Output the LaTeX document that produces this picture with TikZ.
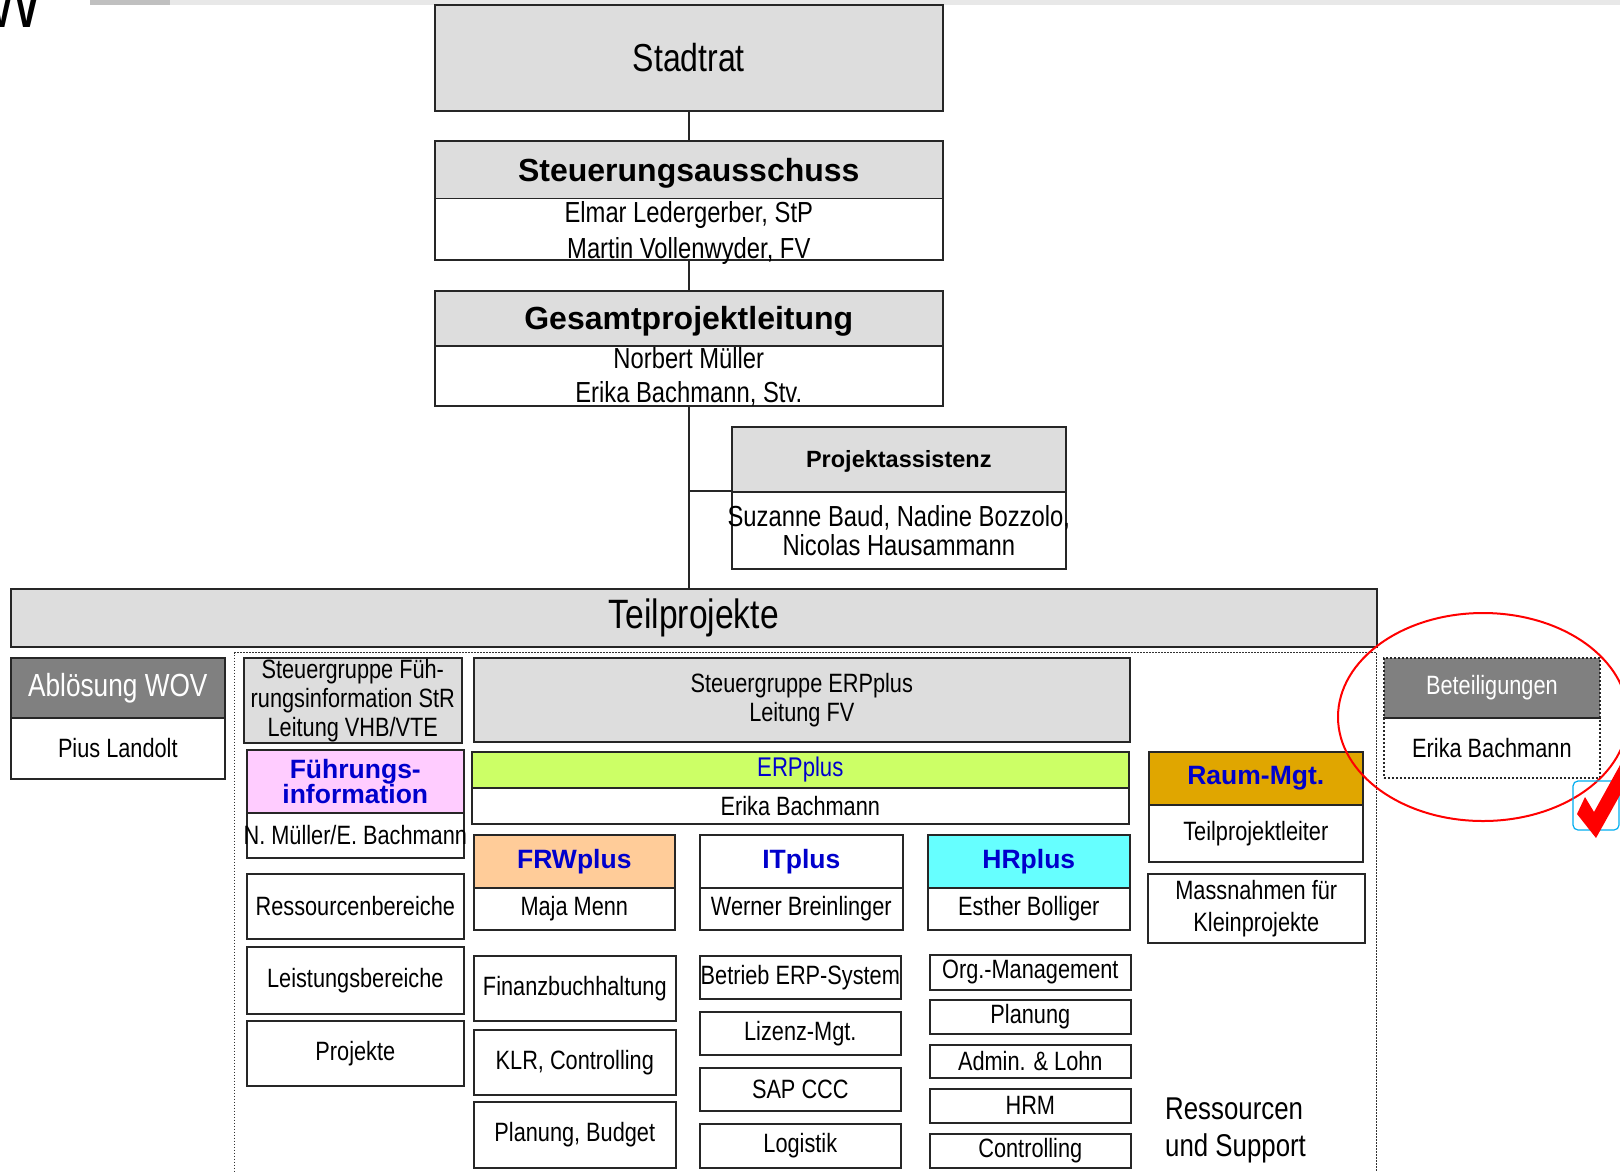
\documentclass[tikz,border=0pt]{standalone}
\usepackage{fontspec}
\setmainfont{Liberation Sans}
\newfontfamily\narrowfont[FakeStretch=0.82]{Liberation Sans}
\begin{document}
\begin{tikzpicture}[x=1pt,y=-1pt,
    wh/.style 2 args={minimum width=#1pt,minimum height=#2pt},
    box/.style={draw=black!85,line width=1.6pt,inner sep=0pt,anchor=north west,align=center,
      font=\narrowfont\fontsize{26.5}{29}\selectfont},
    greybox/.style={box,fill=boxgrey},
    darkbox/.style={box,fill=darkgrey,text=white},
    dotbox/.style={line width=1.8pt,dash pattern=on 2pt off 2pt},
    boldhead/.style={font=\bfseries\fontsize{32}{32}\selectfont,text depth=0pt},
    plusbox/.style={box,text=plusblue,font=\bfseries\fontsize{26.5}{25}\selectfont},
    lbl/.style={inner sep=0pt,align=center,font=\narrowfont\fontsize{29}{36}\selectfont},
    link/.style={draw=black!85,line width=1.5pt}]
  \definecolor{boxgrey}{RGB}{221,221,221}
  \definecolor{darkgrey}{RGB}{128,128,128}
  \definecolor{plusblue}{RGB}{0,0,204}
  \definecolor{pinkfill}{RGB}{255,204,255}
  \definecolor{erpgreen}{RGB}{204,255,102}
  \definecolor{frwfill}{RGB}{255,204,153}
  \definecolor{hrfill}{RGB}{102,255,255}
  \definecolor{raumgold}{RGB}{224,166,0}
  \definecolor{topdark}{RGB}{192,192,192}
  \definecolor{toplight}{RGB}{232,232,232}
  \useasboundingbox (0,0) rectangle (1620,1171);

  % remnants at the top edge
  \fill[topdark] (90,0) rectangle (170,5);
  \fill[toplight] (170,0) rectangle (1620,5);
  \begin{scope}
    \clip (0,0) rectangle (1620,1171);
    \node[inner sep=0pt,anchor=base east,font=\narrowfont\fontsize{74}{74}\selectfont] (wfrag) at (43,27) {W};
  \end{scope}

  % Leitung
  \node[greybox,wh={508}{106},font=\narrowfont\fontsize{39}{39}\selectfont] (stadtrat) at (434,4) {Stadtrat};
  \node[greybox,boldhead,wh={508}{57.5}] (sa-h) at (434,140) {Steuerungsausschuss};
  \node[box,wh={508}{61.5}] (sa-b) at (434,197.5) {};
  \node[lbl,yshift=-4pt] (sa-t) at (sa-b.center) {Elmar Ledergerber, StP\\Martin Vollenwyder, FV};
  \node[greybox,boldhead,wh={508}{55}] (gp-h) at (434,290) {Gesamtprojektleitung};
  \node[box,wh={508}{60}] (gp-b) at (434,345) {};
  \node[lbl,font=\narrowfont\fontsize{29}{34}\selectfont,yshift=-1.5pt] (gp-t) at (gp-b.center) {Norbert Müller\\Erika Bachmann, Stv.};
  \node[greybox,boldhead,font=\bfseries\fontsize{23.5}{23}\selectfont,wh={334}{65}] (pa-h) at (731,426) {Projektassistenz};
  \node[box,wh={334}{77}] (pa-b) at (731,491) {};
  \node[lbl,font=\narrowfont\fontsize{29}{29}\selectfont] (pa-t) at (pa-b.center) {Suzanne Baud, Nadine Bozzolo,\\Nicolas Hausammann};

  % Teilprojekte
  \node[greybox,wh={1366}{58},font=\narrowfont\fontsize{41}{41}\selectfont] (teil) at (10,588) {Teilprojekte};
  \node[box,draw=black!80,line width=1.2pt,dash pattern=on 1.5pt off 1.5pt,wh={1142}{600}] (frame) at (234,652) {};

  \draw[link] (stadtrat.south) -- (sa-h.north);
  \draw[link] (sa-b.south) -- (gp-h.north);
  \draw[link] (gp-b.south) -- (gp-b.south |- teil.north);
  \draw[link] (gp-b.south |- pa-b.north west) -- (pa-b.north west);

  \node[darkbox,wh={214}{60},font=\narrowfont\fontsize{32}{32}\selectfont] (abl-h) at (10,657) {Ablösung WOV};
  \node[box,wh={214}{61}] (abl-b) at (10,717) {Pius Landolt};

  % Fuehrungsinformation
  \node[greybox,wh={218}{85}] (sgf) at (243,657) {Steuergruppe Füh-\\rungsinformation StR\\Leitung VHB/VTE};
  \node[plusbox,fill=pinkfill,wh={217}{63}] (fi-h) at (246,749) {Führungs-\\information};
  \node[box,wh={217}{45}] (fi-b) at (246,812) {};
  \node[lbl,font=\narrowfont\fontsize{26.5}{29}\selectfont] (fi-t) at (fi-b.center) {N. Müller/E. Bachmann};
  \node[box,wh={217}{65}] (rb) at (246,873) {Ressourcenbereiche};
  \node[box,wh={217}{67}] (lb) at (246,946) {Leistungsbereiche};
  \node[box,wh={217}{65}] (pj) at (246,1020) {Projekte};

  % ERPplus
  \node[greybox,wh={656}{84}] (sge) at (473,657) {Steuergruppe ERPplus\\Leitung FV};
  \node[box,fill=erpgreen,text=plusblue,font=\narrowfont\fontsize{27}{27}\selectfont,wh={657}{36}] (erp-h) at (471,751) {ERPplus};
  \node[box,wh={657}{36}] (erp-b) at (471,787) {Erika Bachmann};

  \foreach \x/\w/\c/\name/\lead/\id in {473/201/frwfill/FRWplus/Maja Menn/frw,
      699/203/white/ITplus/Werner Breinlinger/it, 927/202/hrfill/HRplus/Esther Bolliger/hr} {
    \node[plusbox,fill=\c,wh={\w}{53}] (\id-h) at (\x,834) {\name};
    \node[box,wh={\w}{42}] (\id-b) at (\x,887) {\lead};
  }
  \foreach \y/\h/\t [count=\i] in {955/65/Finanzbuchhaltung, 1029/65/{KLR, Controlling}, 1101/66/{Planung, Budget}}
    \node[box,wh={202}{\h}] (frw-\i) at (473,\y) {\t};
  \foreach \y/\h/\t [count=\i] in {955/43/Betrieb ERP-System, 1011/43/Lizenz-Mgt., 1067/43/SAP CCC, 1123/44/Logistik}
    \node[box,wh={201}{\h}] (it-\i) at (699,\y) {\t};
  \foreach \y/\h/\t [count=\i] in {954/35/Org.-Management, 999/34/Planung, 1044/33/Admin. \& Lohn, 1088/34/HRM, 1133/34/Controlling}
    \node[box,wh={201}{\h}] (hr-\i) at (929,\y) {\t};

  % Raum-Mgt.
  \node[plusbox,fill=raumgold,wh={214}{53}] (rm-h) at (1148,751) {Raum-Mgt.};
  \node[box,wh={214}{57}] (rm-b) at (1148,804) {Teilprojektleiter};
  \node[box,font=\narrowfont\fontsize{26.5}{32}\selectfont,wh={217}{69}] (km) at (1147,873) {Massnahmen für\\Kleinprojekte};
  \node[inner sep=0pt,anchor=north west,align=left,font=\narrowfont\fontsize{31.5}{37}\selectfont] (rs) at (1165,1098) {Ressourcen\\und Support};

  % Beteiligungen
  \node[darkbox,dotbox,wh={216}{60}] (bet-h) at (1383,657) {Beteiligungen};
  \node[box,dotbox,wh={216}{60}] (bet-b) at (1383,717) {Erika Bachmann};
  \draw[red,line width=2pt] (1483,717) ellipse [x radius=145pt,y radius=104pt];
  \draw[cyan,line width=1.2pt,rounded corners=5pt] (1573,781) rectangle (1619,830);
  \fill[red] (1577,814) -- (1585,797) -- (1594,812) -- (1620,765) -- (1620,795) -- (1596,838) -- cycle;
\end{tikzpicture}
\end{document}
